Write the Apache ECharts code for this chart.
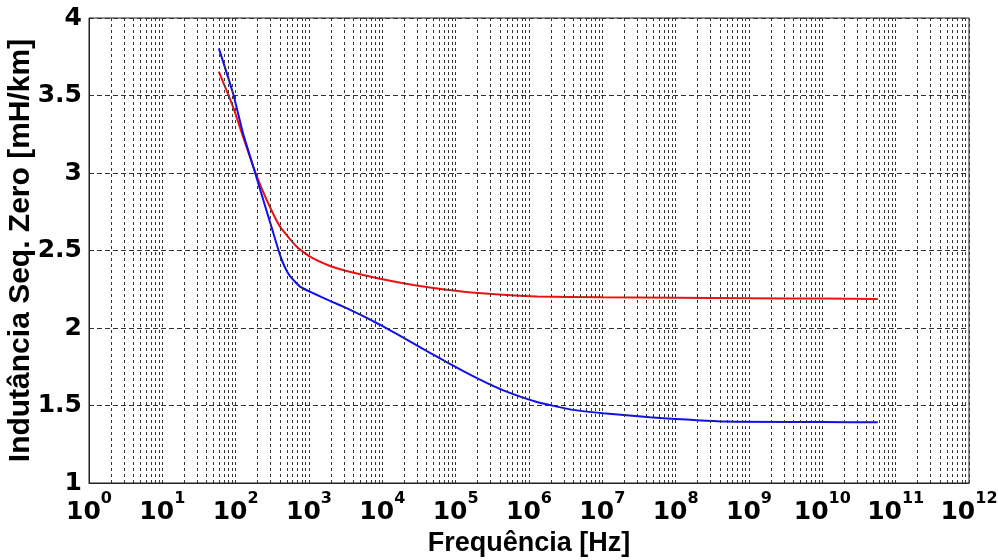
<!DOCTYPE html>
<html>
<head>
<meta charset="utf-8">
<script src="https://cdn.jsdelivr.net/npm/echarts@6/dist/echarts.min.js"></script>
<style>html,body{margin:0;padding:0;background:#fff;}#c{width:998px;height:560px;}</style>
</head>
<body>
<div id="c"></div>
<script>
// Data (frequency in Hz, inductance in mH/km)
var redFreq = [59, 92, 126, 184, 265, 403, 679, 1033, 1932, 3258, 9290, 26490, 75340, 204200, 1288000, 1e7, 1e8, 1e9, 1e10, 5.7e10];
var redVal  = [3.654, 3.428, 3.234, 3.008, 2.826, 2.654, 2.525, 2.46, 2.40, 2.368, 2.318, 2.278, 2.247, 2.226, 2.204, 2.198, 2.195, 2.192, 2.19, 2.187];
var blueFreq = [59, 92, 126, 174, 238, 327, 403, 471, 551, 754, 1146, 1932, 3258, 5495, 9290, 15670, 26490, 44670, 75340, 127400, 204200, 446700, 1288000, 3631000, 10230000, 44670000, 501200000, 1e10, 5.7e10];
var blueVal  = [3.804, 3.514, 3.256, 3.04, 2.826, 2.611, 2.47, 2.39, 2.335, 2.267, 2.224, 2.175, 2.128, 2.077, 2.021, 1.962, 1.901, 1.840, 1.780, 1.722, 1.672, 1.598, 1.523, 1.475, 1.45, 1.424, 1.396, 1.393, 1.392];
var decadeExponents = [0,1,2,3,4,5,6,7,8,9,10,11,12];
var yTicks = [1, 1.5, 2, 2.5, 3, 3.5, 4];

function pairs(xs, ys) { return xs.map(function (x, i) { return [x, ys[i]]; }); }

// minor log grid lines (2..9 x 10^k)
var minorLines = [];
decadeExponents.slice(0, -1).forEach(function (k) {
  for (var m = 2; m <= 9; m++) minorLines.push({ xAxis: m * Math.pow(10, k) });
});

var chart = echarts.init(document.getElementById('c'), null, { renderer: 'canvas' });
var gridColor = '#333';
chart.setOption({
  backgroundColor: '#fff',
  animation: false,
  grid: { left: 89, right: 29, top: 18, bottom: 77, containLabel: false, outerBoundsMode: 'none',
          show: true, borderColor: '#222', borderWidth: 1, backgroundColor: '#fff' },
  xAxis: {
    type: 'log', logBase: 10, min: 1, max: 1e12, interval: 1,
    name: 'Frequência [Hz]', nameLocation: 'middle', nameGap: 47, nameMoveOverlap: false,
    nameTextStyle: { fontFamily: 'Liberation Sans', fontWeight: 'bold', fontSize: 27, color: '#000' },
    axisLine: { show: true, lineStyle: { color: '#222', width: 1 } },
    axisTick: { show: false },
    splitLine: { show: true, lineStyle: { color: gridColor, type: [3, 3], width: 1 } },
    axisLabel: {
      margin: 8, hideOverlap: false,
      formatter: function (v) { return '{b|10}{s|' + Math.round(Math.log10(v)) + '}'; },
      rich: {
        b: { fontFamily: 'DejaVu Sans', fontWeight: 'bold', fontSize: 25, color: '#000', lineHeight: 34, verticalAlign: 'bottom' },
        s: { fontFamily: 'DejaVu Sans', fontWeight: 'bold', fontSize: 16, color: '#000', verticalAlign: 'top' }
      }
    }
  },
  yAxis: {
    type: 'value', min: 1, max: 4, interval: 0.5,
    name: 'Indutância Seq. Zero [mH/km]', nameLocation: 'middle', nameGap: 53, nameMoveOverlap: false,
    nameTextStyle: { fontFamily: 'Liberation Sans', fontWeight: 'bold', fontSize: 30, color: '#000' },
    axisLine: { show: true, lineStyle: { color: '#222', width: 1 } },
    axisTick: { show: false },
    splitLine: { show: true, lineStyle: { color: gridColor, type: [5, 3], width: 1 } },
    axisLabel: {
      margin: 7, color: '#000', fontFamily: 'DejaVu Sans', fontWeight: 'bold', fontSize: 25,
      formatter: function (v) { return yTicks.indexOf(v) >= 0 ? String(v) : ''; }
    }
  },
  series: [
    {
      type: 'line', data: [], silent: true, z: 1,
      markLine: {
        silent: true, symbol: ['none', 'none'], animation: false,
        label: { show: false },
        lineStyle: { color: gridColor, type: [3, 3], width: 1 },
        emphasis: { disabled: true },
        data: minorLines
      }
    },
    {
      type: 'line', name: 'red', data: pairs(redFreq, redVal), showSymbol: false, smooth: 0.15, z: 3,
      lineStyle: { color: '#ee1111', width: 2 }, itemStyle: { color: '#ee1111' }
    },
    {
      type: 'line', name: 'blue', data: pairs(blueFreq, blueVal), showSymbol: false, smooth: 0.15, z: 3,
      lineStyle: { color: '#1010ee', width: 2 }, itemStyle: { color: '#1010ee' }
    }
  ]
});
</script>
</body>
</html>
